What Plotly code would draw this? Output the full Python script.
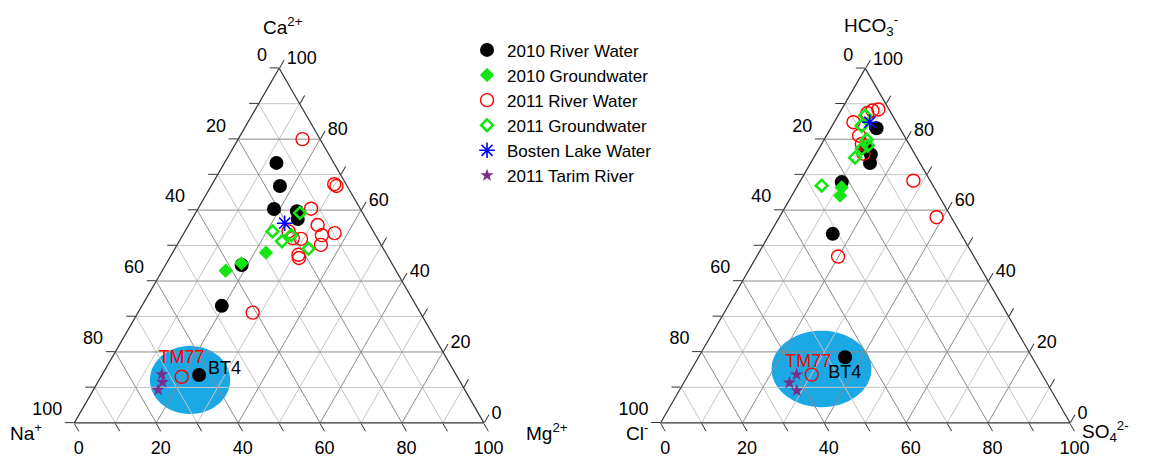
import numpy as np
import plotly.graph_objects as go

FONT = "Liberation Sans, Arial, sans-serif"

# ---------------- Left diagram: cations (%)  a = Ca2+, b = Na+, c = Mg2+ ----------------
cat_river10_ca = [73.3, 66.8, 60.3, 59.7, 57.5, 44.5, 33.0, 13.5]
cat_river10_na = [14.0, 16.4, 21.1, 15.8, 16.7, 36.9, 47.5, 62.8]
cat_river10_mg = [12.7, 16.8, 18.6, 24.5, 25.8, 18.6, 19.5, 23.7]

cat_gw10_ca = [48.0, 45.0, 42.9]
cat_gw10_na = [29.2, 36.7, 41.6]
cat_gw10_mg = [22.8, 18.3, 15.5]

cat_river11_ca = [80.0, 67.3, 66.8, 60.4, 55.8, 53.5, 52.9, 50.2, 51.9, 52.1, 54.0, 47.4, 46.5, 31.1, 13.0]
cat_river11_na = [4.3, 2.9, 2.6, 12.0, 12.7, 9.7, 13.1, 14.7, 18.7, 20.6, 20.7, 21.6, 21.9, 40.9, 67.3]
cat_river11_mg = [15.7, 29.8, 30.6, 27.6, 31.5, 36.8, 34.0, 35.1, 29.4, 27.3, 25.3, 31.0, 31.6, 28.0, 19.7]

cat_gw11_ca = [59.2, 54.0, 51.2, 52.9, 49.1]
cat_gw11_na = [15.3, 24.6, 23.7, 20.6, 18.3]
cat_gw11_mg = [25.5, 21.4, 25.1, 26.5, 32.6]

cat_bosten_ca = [56.3]
cat_bosten_na = [20.5]
cat_bosten_mg = [23.2]

cat_tarim_ca = [13.7, 11.5, 9.3]
cat_tarim_na = [71.8, 72.7, 74.9]
cat_tarim_mg = [14.5, 15.8, 15.8]

# ---------------- Right diagram: anions (%)  a = HCO3-, b = Cl-, c = SO4 2- ----------------
an_river10_hco3 = [83.1, 77.4, 75.7, 73.3, 67.9, 53.3, 18.5]
an_river10_cl = [5.7, 11.1, 10.8, 12.2, 21.8, 31.3, 45.7]
an_river10_so4 = [11.2, 11.5, 13.5, 14.5, 10.3, 15.4, 35.8]

an_gw10_hco3 = [66.4, 64.1]
an_gw10_cl = [22.6, 24.1]
an_gw10_so4 = [11.0, 11.8]

an_river11_hco3 = [88.1, 88.4, 87.4, 84.8, 81.0, 78.7, 75.9, 68.3, 58.0, 46.9, 13.6]
an_river11_cl = [4.2, 2.6, 5.8, 10.5, 11.0, 11.5, 12.5, 4.1, 3.6, 33.2, 56.3]
an_river11_so4 = [7.7, 9.0, 6.8, 4.7, 8.0, 9.8, 11.6, 27.6, 38.4, 19.9, 30.1]

an_gw11_hco3 = [86.7, 83.8, 79.9, 78.2, 77.3, 74.8, 66.9]
an_gw11_cl = [6.7, 9.0, 9.7, 10.3, 12.2, 15.1, 27.2]
an_gw11_so4 = [6.6, 7.2, 10.4, 11.5, 10.5, 10.1, 5.9]

an_bosten_hco3 = [84.8]
an_bosten_cl = [6.5]
an_bosten_so4 = [8.7]

an_tarim_hco3 = [13.6, 11.3, 9.1]
an_tarim_cl = [60.0, 62.9, 62.2]
an_tarim_so4 = [26.4, 25.8, 28.7]

# highlighted zone (centre a, c; semi-axes along horizontal / vertical in % units)
cat_zone = dict(a=12.1, c=22.2, rx=9.8, ry=9.6)
an_zone = dict(a=15.2, c=31.7, rx=12.2, ry=10.8)

# sample labels: (text, a, b, c, colour)
cat_labels = [("TM77", 18.2, 64.7, 17.1, "red"), ("BT4", 15.1, 55.8, 29.1, "black")]
an_labels = [("TM77", 17.1, 55.4, 27.5, "red"), ("BT4", 13.8, 48.1, 38.1, "black")]

series_names = ["2010 River Water", "2010 Groundwater", "2011 River Water",
                "2011 Groundwater", "Bosten Lake Water", "2011 Tarim River"]

# corner titles: (text, x, y) in paper fractions
corner_titles = [
    ("Ca<sup>2+</sup>", 0.2406, 0.960),
    ("Na<sup>+</sup>", 0.016, 0.060),
    ("Mg<sup>2+</sup>", 0.4716, 0.060),
    ("HCO<sub>3</sub><sup>-</sup>", 0.755, 0.962),
    ("Cl<sup>-</sup>", 0.5505, 0.060),
    ("SO<sub>4</sub><sup>2-</sup>", 0.9598, 0.060),
]

tick_vals = list(range(0, 101, 10))
tick_text = [str(100 - v) if v % 20 == 0 else "" for v in tick_vals]
# left-edge labels sit slightly above their ticks in the original
tick_text_left = [t + "<br> " if t else "" for t in tick_text]
minor_grid = [10, 30, 50, 70, 90]
major_grid = [20, 40, 60, 80]

GREEN = "#14e614"
styles = [
    dict(symbol="circle", size=14, color="black", line=dict(width=0)),
    dict(symbol="diamond", size=11, color=GREEN, line=dict(width=0)),
    dict(symbol="circle-open", size=13, color="red", line=dict(width=1.4, color="red")),
    dict(symbol="diamond-open", size=9, color=GREEN, line=dict(width=2.6, color=GREEN)),
    dict(symbol="asterisk-open", size=13, color="blue", line=dict(width=1.6, color="blue")),
    dict(symbol="star", size=10, color="#7b2d8e", line=dict(width=0)),
]


def grid_lines(vals):
    A, B, C = [], [], []
    for v in vals:
        A += [v, v, None]; B += [100 - v, 0, None]; C += [0, 100 - v, None]
        A += [100 - v, 0, None]; B += [v, v, None]; C += [0, 100 - v, None]
        A += [100 - v, 0, None]; B += [0, 100 - v, None]; C += [v, v, None]
    return A, B, C


fig = go.Figure()


def add_panel(sub, series, zone, labels, showlegend):
    t = np.linspace(0, 2 * np.pi, 91)
    ea = zone["a"] + zone["ry"] * np.sin(t)
    ec = zone["c"] + zone["rx"] * np.cos(t) - zone["ry"] * np.sin(t) / 2
    eb = 100 - ea - ec
    fig.add_trace(go.Scatterternary(a=ea, b=eb, c=ec, subplot=sub, mode="lines",
                                    fill="toself", fillcolor="#1ba9e6",
                                    line=dict(width=0, color="#1ba9e6"),
                                    showlegend=False, hoverinfo="skip"))
    for vals, col in ((minor_grid, "#c4c4c4"), (major_grid, "#8a8a8a")):
        A, B, C = grid_lines(vals)
        fig.add_trace(go.Scatterternary(a=A, b=B, c=C, subplot=sub, mode="lines",
                                        line=dict(width=1, color=col),
                                        showlegend=False, hoverinfo="skip"))
    for name, (a, b, c), st in zip(series_names, series, styles):
        fig.add_trace(go.Scatterternary(a=a, b=b, c=c, subplot=sub, mode="markers",
                                        name=name, marker=st,
                                        showlegend=showlegend))
    for txt, a, b, c, col in labels:
        fig.add_trace(go.Scatterternary(a=[a], b=[b], c=[c], subplot=sub, mode="text",
                                        text=[txt], textposition="middle center",
                                        textfont=dict(size=18, family=FONT, color=col),
                                        showlegend=False, hoverinfo="skip"))


add_panel("ternary",
          [(cat_river10_ca, cat_river10_na, cat_river10_mg),
           (cat_gw10_ca, cat_gw10_na, cat_gw10_mg),
           (cat_river11_ca, cat_river11_na, cat_river11_mg),
           (cat_gw11_ca, cat_gw11_na, cat_gw11_mg),
           (cat_bosten_ca, cat_bosten_na, cat_bosten_mg),
           (cat_tarim_ca, cat_tarim_na, cat_tarim_mg)],
          cat_zone, cat_labels, True)
add_panel("ternary2",
          [(an_river10_hco3, an_river10_cl, an_river10_so4),
           (an_gw10_hco3, an_gw10_cl, an_gw10_so4),
           (an_river11_hco3, an_river11_cl, an_river11_so4),
           (an_gw11_hco3, an_gw11_cl, an_gw11_so4),
           (an_bosten_hco3, an_bosten_cl, an_bosten_so4),
           (an_tarim_hco3, an_tarim_cl, an_tarim_so4)],
          an_zone, an_labels, False)


def axis(texts):
    return dict(title=dict(text=""),
                tickmode="array", tickvals=tick_vals, ticktext=texts,
                ticks="outside", ticklen=9, tickwidth=1, tickcolor="#333",
                tickfont=dict(size=18, family=FONT, color="black"),
                showgrid=False, linecolor="#333", linewidth=1.2, min=0)


annotations = [dict(text=txt, x=x, y=y, xref="paper", yref="paper",
                    xanchor="center", yanchor="middle", showarrow=False,
                    font=dict(size=19, family=FONT, color="black"))
               for txt, x, y in corner_titles]

fig.update_layout(
    width=1143, height=451,
    margin=dict(l=0, r=0, t=0, b=0),
    paper_bgcolor="white",
    font=dict(family=FONT, color="black"),
    ternary=dict(domain=dict(x=[0.0580, 0.4164], y=[0.080, 0.8665]), sum=100,
                 bgcolor="white", aaxis=axis(tick_text_left),
                 baxis=axis(tick_text), caxis=axis(tick_text)),
    ternary2=dict(domain=dict(x=[0.5710, 0.9291], y=[0.080, 0.8665]), sum=100,
                  bgcolor="white", aaxis=axis(tick_text_left),
                  baxis=axis(tick_text), caxis=axis(tick_text)),
    legend=dict(x=0.4016, y=0.946, xanchor="left", yanchor="top",
                font=dict(size=17, family=FONT, color="black"),
                bgcolor="rgba(0,0,0,0)"),
    annotations=annotations,
    showlegend=True,
)

fig.write_html("out.html")
